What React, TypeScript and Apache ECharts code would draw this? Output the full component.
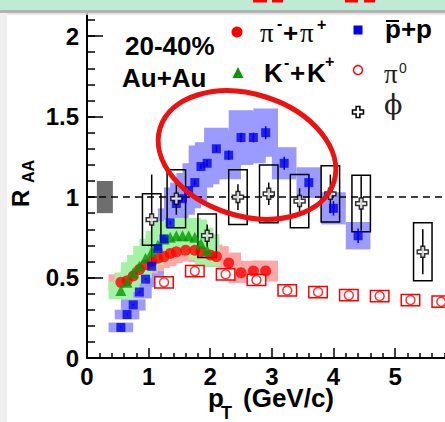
import React, { useEffect, useRef } from 'react';
import * as echarts from 'echarts';

// ---------------- data ----------------
// pi- + pi+ (filled red circles)
const pipX = [0.55, 0.65, 0.75, 0.85, 0.95, 1.05, 1.15, 1.25, 1.35, 1.45, 1.6, 1.75, 1.85, 2.0, 2.1, 2.3, 2.5, 2.7, 2.9];
const pipY = [0.47, 0.48, 0.51, 0.55, 0.58, 0.6, 0.62, 0.63, 0.65, 0.66, 0.67, 0.67, 0.66, 0.64, 0.63, 0.59, 0.53, 0.54, 0.54];
const pipSys = [0.05, 0.05, 0.05, 0.055, 0.055, 0.06, 0.06, 0.06, 0.06, 0.06, 0.065, 0.065, 0.065, 0.065, 0.065, 0.065, 0.065, 0.065, 0.065];

// K- + K+ (green triangles)
const kX = [0.55, 0.65, 0.75, 0.85, 0.95, 1.05, 1.15, 1.25, 1.35, 1.45, 1.55, 1.65, 1.75, 1.85, 1.95];
const kY = [0.42, 0.47, 0.53, 0.57, 0.62, 0.66, 0.7, 0.74, 0.75, 0.76, 0.76, 0.76, 0.75, 0.71, 0.67];
const kSys = [0.055, 0.06, 0.065, 0.07, 0.075, 0.08, 0.09, 0.1, 0.1, 0.1, 0.11, 0.11, 0.11, 0.1, 0.1];

// pbar + p (blue squares)
const pX = [0.55, 0.65, 0.75, 0.85, 0.95, 1.05, 1.15, 1.25, 1.35, 1.45, 1.55, 1.65, 1.75, 1.85, 1.95, 2.1, 2.3, 2.5, 2.7, 2.9, 3.2, 3.6, 4.0, 4.4];
const pY = [0.19, 0.27, 0.33, 0.41, 0.49, 0.57, 0.68, 0.74, 0.84, 0.96, 0.99, 1.04, 1.09, 1.19, 1.21, 1.3, 1.26, 1.37, 1.37, 1.4, 1.21, 1.09, 0.93, 0.76];
const pSys = [0.03, 0.03, 0.035, 0.04, 0.05, 0.06, 0.07, 0.08, 0.09, 0.1, 0.1, 0.11, 0.12, 0.13, 0.13, 0.13, 0.15, 0.17, 0.16, 0.15, 0.1, 0.095, 0.1, 0.085];
const pStat = [0.005, 0.005, 0.005, 0.005, 0.005, 0.005, 0.01, 0.01, 0.01, 0.01, 0.01, 0.015, 0.015, 0.015, 0.02, 0.02, 0.03, 0.03, 0.03, 0.04, 0.04, 0.045, 0.045, 0.045];

// pi0 (open red circles)
const pi0X = [1.25, 1.75, 2.25, 2.75, 3.25, 3.75, 4.25, 4.75, 5.25, 5.75];
const pi0Y = [0.47, 0.54, 0.52, 0.485, 0.42, 0.41, 0.39, 0.385, 0.36, 0.35];
const pi0Sys = [0.035, 0.035, 0.035, 0.035, 0.035, 0.035, 0.035, 0.035, 0.035, 0.035];

// phi (open crosses)
const phiX = [1.05, 1.45, 1.95, 2.45, 2.95, 3.45, 3.95, 4.45, 5.45];
const phiY = [0.86, 0.99, 0.76, 1.0, 1.02, 0.975, 1.02, 0.96, 0.66];
const phiStat = [0.28, 0.1, 0.07, 0.08, 0.07, 0.08, 0.12, 0.17, 0.14];
const phiSys = [0.16, 0.18, 0.135, 0.17, 0.18, 0.165, 0.175, 0.175, 0.18];

// normalisation uncertainty box
const normX = [0.16, 0.42];
const normY = [0.9, 1.1];

// reference line
const refX = [0, 6.2];
const refY = [1, 1];

// axes (visible tick labels)
const xTickLabels = ['0', '1', '2', '3', '4', '5'];
const yTickLabels = ['0', '0.5', '1', '1.5', '2'];

// ----------------------------------------------------------------
const SANS = "'Liberation Sans', Arial, Helvetica, sans-serif";
const PI_FONT = "'Liberation Serif', 'DejaVu Serif', serif";
const PHI_FONT = "'DejaVu Serif', 'Liberation Serif', serif";

function boxSeries(xs: number[], ys: number[], es: number[], hw: number, style: any, z: number) {
  return {
    type: 'custom',
    z,
    silent: true,
    encode: { x: 0, y: 1 },
    data: xs.map((x, i) => [x, ys[i], es[i]]),
    renderItem: (_p: any, api: any) => {
      const x = api.value(0);
      const y = api.value(1);
      const e = api.value(2);
      const a = api.coord([x - hw, y + e]);
      const b = api.coord([x + hw, y - e]);
      return {
        type: 'rect',
        shape: { x: a[0], y: a[1], width: b[0] - a[0], height: b[1] - a[1] },
        style,
      };
    },
  };
}

function errSeries(xs: number[], ys: number[], es: number[], color: string, width: number, z: number) {
  return {
    type: 'custom',
    z,
    silent: true,
    encode: { x: 0, y: 1 },
    data: xs.map((x, i) => [x, ys[i], es[i]]),
    renderItem: (_p: any, api: any) => {
      const x = api.value(0);
      const y = api.value(1);
      const e = api.value(2);
      const a = api.coord([x, y + e]);
      const b = api.coord([x, y - e]);
      return {
        type: 'line',
        shape: { x1: a[0], y1: a[1], x2: b[0], y2: b[1] },
        style: { stroke: color, lineWidth: width },
      };
    },
  };
}

function txt(text: string, x: number, y: number, size: number, opts: any = {}) {
  return {
    type: 'text',
    x,
    y,
    z: 100,
    style: {
      text,
      fontSize: size,
      fontFamily: opts.family || SANS,
      fontWeight: opts.weight || 'bold',
      fill: opts.fill || '#000',
      align: opts.align || 'left',
      textAlign: opts.align || 'left',
      verticalAlign: 'middle',
      textVerticalAlign: 'middle',
    },
  };
}

function crossPts(cx: number, cy: number, r: number, w: number) {
  return [
    [cx - w, cy - r], [cx + w, cy - r], [cx + w, cy - w], [cx + r, cy - w],
    [cx + r, cy + w], [cx + w, cy + w], [cx + w, cy + r], [cx - w, cy + r],
    [cx - w, cy + w], [cx - r, cy + w], [cx - r, cy - w], [cx - w, cy - w],
  ];
}

const CROSS = 'path://M3.3,0L6.7,0L6.7,3.3L10,3.3L10,6.7L6.7,6.7L6.7,10L3.3,10L3.3,6.7L0,6.7L0,3.3L3.3,3.3Z';

export default function App() {
  const ref = useRef<HTMLDivElement>(null);

  useEffect(() => {
    if (!ref.current) return;
    const chart = echarts.init(ref.current, undefined, { renderer: 'svg' });

    const axisLabelStyle = {
      fontFamily: SANS,
      fontWeight: 'bold',
      fontSize: 24,
      color: '#000',
    };

    const option: any = {
      animation: false,
      backgroundColor: '#ffffff',
      grid: { left: 87, right: 11, top: 12, bottom: 64, containLabel: false, outerBoundsMode: 'none' },
      xAxis: {
        type: 'value',
        min: 0,
        max: 6.2,
        interval: 1,
        axisLine: { show: true, onZero: false, lineStyle: { color: '#000', width: 2 } },
        axisTick: { show: true, inside: true, length: 10, lineStyle: { color: '#000', width: 1.5 } },
        minorTick: { show: true, splitNumber: 5, length: 5, lineStyle: { color: '#000', width: 1.5 } },
        splitLine: { show: false },
        axisLabel: {
          ...axisLabelStyle,
          margin: 6,
          formatter: (v: number) => {
            const s = String(Math.round(v * 100) / 100);
            return xTickLabels.indexOf(s) >= 0 ? s : '';
          },
        },
      },
      yAxis: [
        {
          type: 'value',
          min: 0,
          max: 2.15,
          interval: 0.1,
          axisLine: { show: true, onZero: false, lineStyle: { color: '#000', width: 2 } },
          axisTick: { show: true, inside: true, length: 8, lineStyle: { color: '#000', width: 1.5 } },
          splitLine: { show: false },
          axisLabel: {
            ...axisLabelStyle,
            margin: 8,
            formatter: (v: number) => {
              const s = String(Math.round(v * 100) / 100);
              return yTickLabels.indexOf(s) >= 0 ? s : '';
            },
          },
        },
        {
          type: 'value',
          min: 0,
          max: 2.15,
          interval: 0.5,
          position: 'left',
          offset: 0,
          axisLine: { show: false },
          axisTick: { show: true, inside: true, length: 16, lineStyle: { color: '#000', width: 1.5 } },
          splitLine: { show: false },
          axisLabel: { show: false },
        },
      ],
      series: [
        // systematic bands (blue, then pink, then green on top)
        boxSeries(pX, pY, pSys, 0.2, { fill: '#9a9aff' }, 1),
        boxSeries(pipX, pipY, pipSys, 0.2, { fill: '#ffa8a8' }, 1),
        boxSeries(kX, kY, kSys, 0.2, { fill: '#a4f3a4' }, 1),
        // normalisation box
        boxSeries([(normX[0] + normX[1]) / 2], [(normY[0] + normY[1]) / 2], [(normY[1] - normY[0]) / 2], (normX[1] - normX[0]) / 2, { fill: '#6e6e6e' }, 1),
        // dashed line at 1
        {
          type: 'line',
          z: 2,
          silent: true,
          symbol: 'none',
          data: refX.map((x, i) => [x, refY[i]]),
          lineStyle: { color: '#000', width: 1.5, type: [7, 5] },
        },
        // pi0 sys boxes
        boxSeries(pi0X, pi0Y, pi0Sys, 0.15, { fill: '#ffffff', stroke: '#ff0000', lineWidth: 1.5 }, 3),
        // phi sys boxes
        boxSeries(phiX, phiY, phiSys, 0.15, { fill: 'none', stroke: '#000', lineWidth: 1.5 }, 3),
        // stat error bars
        errSeries(phiX, phiY, phiStat, '#000', 1.5, 4),
        errSeries(pX, pY, pStat, '#0000ee', 1.5, 4),
        // markers
        {
          name: 'pi+pi',
          type: 'scatter',
          z: 5,
          symbol: 'circle',
          symbolSize: 11,
          itemStyle: { color: '#ff0000' },
          data: pipX.map((x, i) => [x, pipY[i]]),
        },
        {
          name: 'K+K',
          type: 'scatter',
          z: 5,
          symbol: 'triangle',
          symbolSize: 11,
          itemStyle: { color: '#009a00' },
          data: kX.map((x, i) => [x, kY[i]]),
        },
        {
          name: 'p+p',
          type: 'scatter',
          z: 5,
          symbol: 'rect',
          symbolSize: 9,
          itemStyle: { color: '#0000ee' },
          data: pX.map((x, i) => [x, pY[i]]),
        },
        {
          name: 'pi0',
          type: 'scatter',
          z: 5,
          symbol: 'circle',
          symbolSize: 9,
          itemStyle: { color: '#ffffff', borderColor: '#ff0000', borderWidth: 1.5 },
          data: pi0X.map((x, i) => [x, pi0Y[i]]),
        },
        {
          name: 'phi',
          type: 'scatter',
          z: 5,
          symbol: CROSS,
          symbolSize: 11,
          itemStyle: { color: '#ffffff', borderColor: '#000', borderWidth: 1.5 },
          data: phiX.map((x, i) => [x, phiY[i]]),
        },
      ],
      graphic: [
        // page decorations
        { type: 'rect', z: 90, shape: { x: 0, y: 0, width: 480, height: 10 }, style: { fill: '#c1ead6' } },
        { type: 'rect', z: 90, shape: { x: 0, y: 10, width: 480, height: 3.3 }, style: { fill: '#b3b3b3' } },
        { type: 'rect', z: 90, shape: { x: 0, y: 13.3, width: 480, height: 1.5 }, style: { fill: '#e2e2e2' } },
        { type: 'rect', z: 90, shape: { x: 0, y: 13, width: 7.3, height: 420 }, style: { fill: '#f0f0f0' } },
        { type: 'rect', z: 91, shape: { x: 253, y: 0, width: 14, height: 2.5 }, style: { fill: '#ff0000' } },
        { type: 'rect', z: 91, shape: { x: 272, y: 0, width: 11, height: 2.5 }, style: { fill: '#ff0000' } },
        { type: 'rect', z: 91, shape: { x: 345, y: 0, width: 13, height: 2.5 }, style: { fill: '#ff0000' } },
        { type: 'rect', z: 91, shape: { x: 364, y: 0, width: 11, height: 2.5 }, style: { fill: '#ff0000' } },

        // red ellipse
        {
          type: 'ellipse',
          z: 80,
          x: 247,
          y: 155,
          rotation: -0.3,
          shape: { cx: 0, cy: 0, rx: 91, ry: 61 },
          style: { fill: 'none', stroke: '#ee1111', lineWidth: 5 },
        },

        // labels in plot
        txt('20-40%', 125, 46, 26),
        txt('Au+Au', 122, 78, 26),

        // legend markers
        { type: 'circle', z: 100, shape: { cx: 237, cy: 32, r: 5.5 }, style: { fill: '#ff0000' } },
        { type: 'polygon', z: 100, shape: { points: [[238, 67], [232.5, 78], [243.5, 78]] }, style: { fill: '#009a00' } },
        { type: 'rect', z: 100, shape: { x: 353.5, y: 25.5, width: 9, height: 9 }, style: { fill: '#0000ee' } },
        { type: 'circle', z: 100, shape: { cx: 358, cy: 70, r: 4.5 }, style: { fill: '#ffffff', stroke: '#ff0000', lineWidth: 1.5 } },
        { type: 'polygon', z: 100, shape: { points: crossPts(358, 112, 5.5, 1.9) }, style: { fill: '#ffffff', stroke: '#000', lineWidth: 1.5 } },

        // legend texts
        txt('π', 260, 33, 27, { family: PI_FONT, weight: 'normal' }),
        txt('-', 277, 23, 16),
        txt('+', 283, 33, 26),
        txt('π', 300, 33, 27, { family: PI_FONT, weight: 'normal' }),
        txt('+', 317, 24, 16),

        txt('K', 264, 73, 26),
        txt('-', 284, 62, 16),
        txt('+', 290, 73, 26),
        txt('K', 307, 73, 26),
        txt('+', 325, 61, 16),

        txt('p+p', 385, 29, 26),
        { type: 'line', z: 100, shape: { x1: 386, y1: 21, x2: 399, y2: 21 }, style: { stroke: '#000', lineWidth: 2 } },

        txt('π', 384, 74, 27, { family: PI_FONT, weight: 'normal', fill: '#222' }),
        txt('0', 399, 68, 14, { weight: 'normal', fill: '#222' }),

        txt('ϕ', 384, 104, 27, { family: PHI_FONT, weight: 'normal', fill: '#222' }),

        // axis titles
        txt('p', 208, 398, 26),
        txt('T', 221, 413, 18),
        txt('(GeV/c)', 243, 398, 26),
        {
          type: 'group',
          x: 20.5,
          y: 207,
          rotation: Math.PI / 2,
          z: 100,
          children: [txt('R', 0, 0, 24), txt('AA', 24, 8, 16)],
        },
      ],
    };

    chart.setOption(option);
    return () => {
      chart.dispose();
    };
  }, []);

  return (
    <div
      style={{
        position: 'fixed',
        left: 0,
        top: 0,
        width: 445,
        height: 422,
        overflow: 'hidden',
        background: '#ffffff',
      }}
    >
      <div ref={ref} style={{ width: 480, height: 422 }} />
    </div>
  );
}
